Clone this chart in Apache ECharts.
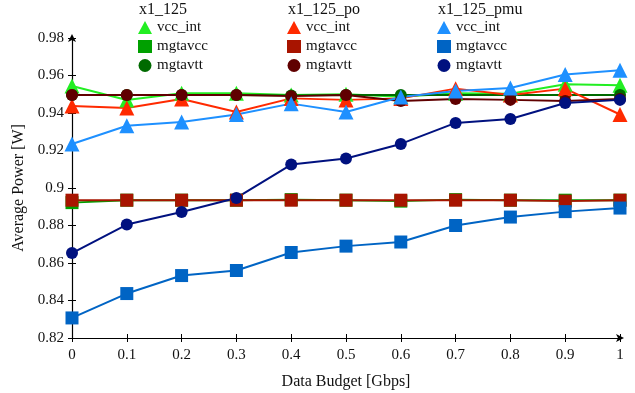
<!DOCTYPE html>
<html><head><meta charset="utf-8">
<script src="https://cdn.jsdelivr.net/npm/echarts@6/dist/echarts.min.js"></script>
<style>html,body{margin:0;padding:0;background:#fff}#c{width:635px;height:393px}</style>
</head><body><div id="c"></div>
<script>
const budgets = [0,0.1,0.2,0.3,0.4,0.5,0.6,0.7,0.8,0.9,1];
const groups = ['x1_125','x1_125_po','x1_125_pmu'];
const rails = ['vcc_int','mgtavcc','mgtavtt'];
// x1_125
const a_vcc_int = [0.9544,0.9469,0.9505,0.9505,0.9496,0.9500,0.9487,0.9505,0.9503,0.9553,0.9548];
const a_mgtavcc = [0.8922,0.8935,0.8935,0.8935,0.8938,0.8935,0.8930,0.8938,0.8935,0.8935,0.8935];
const a_mgtavtt = [0.9496,0.9496,0.9496,0.9496,0.9494,0.9496,0.9496,0.9496,0.9496,0.9496,0.9496];
// x1_125_po
const b_vcc_int = [0.9437,0.9427,0.9475,0.9405,0.9478,0.9470,0.9478,0.9530,0.9496,0.9530,0.9392];
const b_mgtavcc = [0.8935,0.8935,0.8935,0.8935,0.8935,0.8935,0.8935,0.8935,0.8935,0.8930,0.8935];
const b_mgtavtt = [0.9496,0.9496,0.9496,0.9496,0.9490,0.9496,0.9464,0.9475,0.9470,0.9464,0.9475];
// x1_125_pmu
const c_vcc_int = [0.9235,0.9332,0.9352,0.9392,0.9450,0.9405,0.9485,0.9517,0.9533,0.9605,0.9628];
const c_mgtavcc = [0.8307,0.8437,0.8533,0.8560,0.8656,0.8690,0.8712,0.8800,0.8845,0.8874,0.8893];
const c_mgtavtt = [0.8653,0.8805,0.8872,0.8947,0.9125,0.9157,0.9235,0.9347,0.9368,0.9453,0.9470];
const yTicks = [0.82,0.84,0.86,0.88,0.9,0.92,0.94,0.96,0.98];

const values = [[a_vcc_int,a_mgtavcc,a_mgtavtt],[b_vcc_int,b_mgtavcc,b_mgtavtt],[c_vcc_int,c_mgtavcc,c_mgtavtt]];
const colors = [['#22ee22','#00a000','#006a00'],['#ff2a00','#a81400','#600000'],['#1e90ff','#0064c4','#00117f']];
const symbols = ['triangle','rect','circle'];
const symSizes = [15,13,12];
const FONT = 'Liberation Serif';

function ri_of(n){ return rails.indexOf(n.split(' ')[1]); }
const series = [];
const legends = [];
const graphics = [];
const legendX = [138,287,437];
groups.forEach((g,gi)=>{
  const names=[];
  rails.forEach((r,ri)=>{
    const name = g+' '+r;
    names.push(name);
    series.push({
      name, type:'line', data: budgets.map((x,i)=>[x, values[gi][ri][i]]),
      symbol: symbols[ri], symbolSize: symSizes[ri],
      itemStyle:{color:colors[gi][ri]},
      lineStyle:{color:colors[gi][ri], width:2},
      emphasis:{disabled:true}, animation:false
    });
  });
  legends.push({
    data: names.map(n=>({name:n, icon: symbols[ri_of(n)]})),
    orient:'vertical', left: legendX[gi], top: 20, padding:0,
    itemWidth: 14, itemHeight: 13, itemGap: 4,
    formatter: n => n.split(' ')[1],
    textStyle:{fontFamily:FONT, fontSize:15, color:'#111', padding:[0,0,0,0]},
    selectedMode:false
  });
  graphics.push({type:'text', left: legendX[gi]+1, top: 2,
    style:{text:g, font:'16px "Liberation Serif"', fill:'#111'}});
});

const axisCommon = {
  axisLine:{show:true, lineStyle:{color:'#000', width:1.2}, symbol:['none','arrow'], symbolSize:[6,8], symbolOffset:[0,4]},
  splitLine:{show:false},
  nameTextStyle:{fontFamily:FONT, fontSize:16, color:'#111'},
};
const chart = echarts.init(document.getElementById('c'));
chart.setOption({
  animation:false,
  grid:{left:72, right:15, top:38, bottom:55, containLabel:false, outerBoundsMode:'none'},
  legend: legends,
  graphic: graphics,
  xAxis:[{type:'value', min:0, max:1, interval:0.1, ...axisCommon,
    name:'Data Budget [Gbps]', nameLocation:'middle', nameGap:36,
    axisTick:{show:true, inside:false, length:4, lineStyle:{color:'#000'}},
    axisLabel:{fontFamily:FONT, fontSize:15, color:'#111', margin:10}},
    {type:'value', min:0, max:1, interval:0.1, position:'bottom', axisLine:{show:false},
    axisTick:{show:true, inside:true, length:4, lineStyle:{color:'#000'}}, axisLabel:{show:false}, splitLine:{show:false}}],
  yAxis:[{type:'value', min:yTicks[0], max:yTicks[yTicks.length-1], interval:0.02, ...axisCommon,
    name:'Average Power [W]', nameLocation:'middle', nameGap:37,
    axisTick:{show:true, inside:false, length:4, lineStyle:{color:'#000'}},
    axisLabel:{fontFamily:FONT, fontSize:15, color:'#111', margin:8}},
    {type:'value', min:yTicks[0], max:yTicks[yTicks.length-1], interval:0.02, position:'left', axisLine:{show:false},
    axisTick:{show:true, inside:true, length:4, lineStyle:{color:'#000'}}, axisLabel:{show:false}, splitLine:{show:false}}],
  series
});
</script></body></html>
